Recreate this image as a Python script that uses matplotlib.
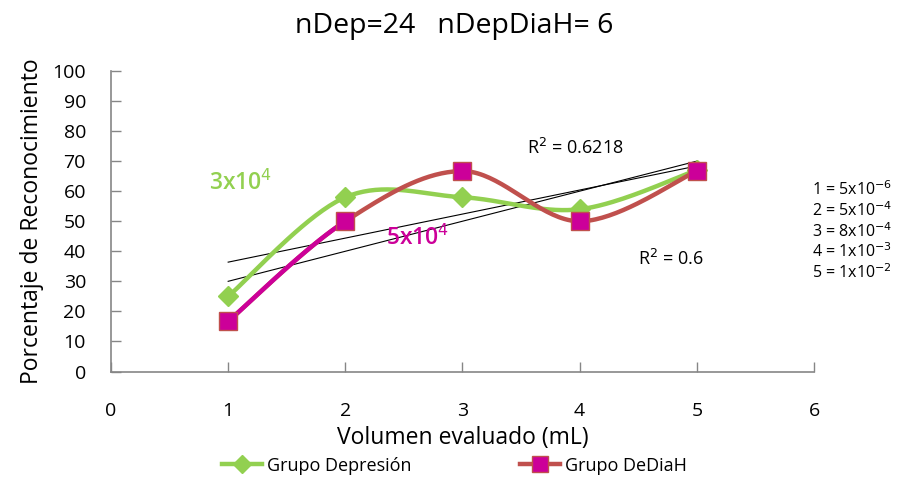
import numpy as np
import matplotlib
matplotlib.use("Agg")
import matplotlib.pyplot as plt
from matplotlib.lines import Line2D

# datos
volumen = [1, 2, 3, 4, 5]
grupo_depresion = [25, 58, 58, 54, 67]
grupo_dediah = [16.7, 50, 66.7, 50, 66.7]
equivalencias = ["1 = 5x10$^{-6}$", "2 = 5x10$^{-4}$", "3 = 8x10$^{-4}$",
                 "4 = 1x10$^{-3}$", "5 = 1x10$^{-2}$"]

verde = '#92d050'
rojo = '#c0504d'
magenta = '#cc0099'
gris = '#868686'


def suavizar(x, y, n=40):
    # curva suavizada estilo Excel (Catmull-Rom -> Bezier)
    p = np.column_stack([x, y]).astype(float)
    p_ext = np.vstack([p[0], p, p[-1]])
    segs = []
    t = np.linspace(0, 1, n)[:, None]
    for i in range(len(p) - 1):
        p0, p1, p2, p3 = p_ext[i], p_ext[i + 1], p_ext[i + 2], p_ext[i + 3]
        c1 = p1 + (p2 - p0) / 6.0
        c2 = p2 - (p3 - p1) / 6.0
        b = ((1 - t) ** 3) * p1 + 3 * ((1 - t) ** 2) * t * c1 + 3 * (1 - t) * t ** 2 * c2 + t ** 3 * p2
        segs.append(b)
    return segs


plt.rcParams['font.family'] = ['Open Sans', 'DejaVu Sans']
fig = plt.figure(figsize=(9.09, 4.8), dpi=100, facecolor='white')
ax = fig.add_axes([0.1221, 0.226, 0.7734, 0.626])

# lineas de tendencia
xs = np.array(volumen, dtype=float)
for serie in (grupo_depresion, grupo_dediah):
    m, b = np.polyfit(xs, serie, 1)
    ax.plot([xs[0], xs[-1]], [m * xs[0] + b, m * xs[-1] + b], color='black', lw=0.8, zorder=2)

# Grupo Depresion
segs = suavizar(volumen, grupo_depresion)
curva = np.vstack(segs)
ax.plot(curva[:, 0], curva[:, 1], color=verde, lw=3.2, zorder=3, solid_capstyle='round')
ax.plot(volumen, grupo_depresion, ls='none', marker='D', ms=10, color=verde, zorder=4)

# Grupo DeDiaH
segs = suavizar(volumen, grupo_dediah)
curva = np.vstack(segs)
ax.plot(curva[:, 0], curva[:, 1], color=rojo, lw=3.2, zorder=3, solid_capstyle='round')
ax.plot(segs[0][:, 0], segs[0][:, 1], color=magenta, lw=3.2, zorder=3, solid_capstyle='round')
ax.plot(volumen, grupo_dediah, ls='none', marker='s', ms=13, mfc=magenta, mec=rojo, mew=1, zorder=5)

ax.set_xlim(0, 6)
ax.set_ylim(0, 100)
ax.set_xticks(range(0, 7))
ax.set_yticks(range(0, 101, 10))
for s in ('top', 'right'):
    ax.spines[s].set_visible(False)
for s in ('left', 'bottom'):
    ax.spines[s].set_color(gris)
    ax.spines[s].set_linewidth(1.2)
ax.tick_params(axis='x', direction='in', length=7, color=gris, width=1, pad=22, labelsize=14)
ax.tick_params(axis='y', direction='in', length=7, color=gris, width=1, pad=18, labelsize=14)

ax.set_xlabel('Volumen evaluado (mL)', fontsize=16.5, labelpad=4)
ax.set_ylabel('Porcentaje de Reconocimiento', fontsize=16.5, labelpad=6)
fig.text(0.5, 0.945, 'nDep=24   nDepDiaH= 6', ha='center', va='center', fontsize=20.5)

# anotaciones
ax.text(0.84, 62.5, '3x10$^{4}$', color=verde, fontsize=16.5, fontweight='semibold', va='center')
ax.text(2.35, 44.5, '5x10$^{4}$', color=magenta, fontsize=16.5, fontweight='semibold', va='center')
ax.text(3.55, 74.5, 'R$^{2}$ = 0.6218', fontsize=13, va='center')
ax.text(4.5, 37.5, 'R$^{2}$ = 0.6', fontsize=13, va='center')

for i, t in enumerate(equivalencias):
    fig.text(0.893, 0.604 - i * 0.0428, t, fontsize=11.5, va='center', ha='left')

# leyenda
handles = [Line2D([0], [0], color=verde, lw=3.2, marker='D', ms=9),
           Line2D([0], [0], color=rojo, lw=3.2, marker='s', ms=12, mfc=magenta, mec=rojo)]
fig.legend(handles, ['Grupo Depresión', 'Grupo DeDiaH'], loc='center', bbox_to_anchor=(0.5, 0.03),
           ncol=2, frameon=False, fontsize=13, handlelength=2.2, columnspacing=6.0, handletextpad=0.3)

fig.savefig('out.png', dpi=100, facecolor='white')
